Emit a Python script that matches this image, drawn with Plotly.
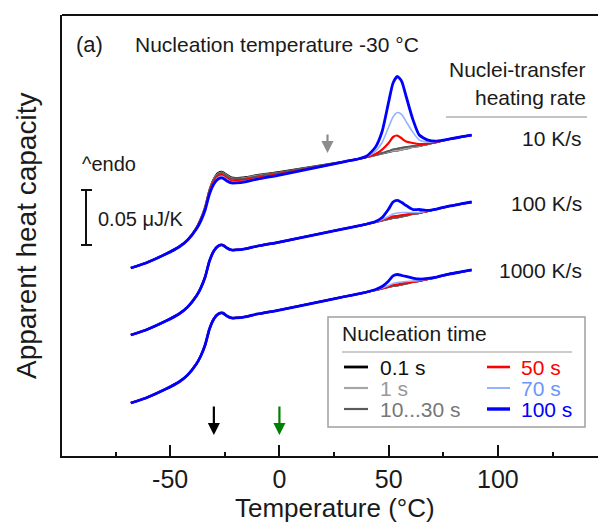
import plotly.graph_objects as go

# ---------------- data ----------------
# temperature grid, degC
T = [-68, -60, -52, -46, -42, -38, -36, -34, -32, -30, -28, -26, -24, -22, -20,
     -15, -10, 0, 10, 20, 30, 36, 40, 44, 47, 50, 52, 54, 56, 58, 61, 64, 68,
     72, 78, 83, 88]
# common curve (100 s trace shape) relative to its start, nJ/K
baseline = [0, 5.5, 12.7, 19.1, 25.5, 35.5, 42.7, 52.7, 67.3, 76.4, 80.9, 81.8,
            79.1, 77.3, 77.3, 78.6, 80.9, 84.5, 88.6, 92.7, 96.8, 99.1, 100.9,
            102.7, 104.1, 105.5, 106.4, 106.8, 107.7, 108.6, 110.0, 110.9,
            112.7, 114.5, 117.3, 119.1, 120.9]

rates = ["10 K/s", "100 K/s", "1000 K/s"]
rate_offset = [0.1709, 0.1100, 0.0482]          # uJ/K, start level of each group
times = ["0.1 s", "1 s", "10...30 s", "50 s", "70 s", "100 s"]

# melting-peak excess, nJ/K, at these temperatures
peak_T = [36, 40, 44, 47, 50, 52, 54, 56, 58, 61, 64, 68, 72, 78]
melt_10Ks = [
    [0] * 14,
    [0] * 14,
    [0, 0, 0, 0.5, 0.9, 1.4, 1.8, 1.8, 1.4, 0.9, 0.5, 0, 0, 0],
    [0, 0, 0.9, 3.6, 8.2, 12.7, 13.6, 10, 6.4, 3.6, 1.8, 0.5, 0, 0],
    [0, 0.5, 3.6, 10, 22.7, 30.9, 34.5, 31.8, 24.5, 13.6, 5.5, 1.8, 0.5, 0],
    [0, 0.9, 7.3, 20, 45.5, 61.8, 67.3, 61.8, 47.3, 25.5, 10, 3.6, 0.9, 0],
]
melt_100Ks = [
    [0] * 14,
    [0] * 14,
    [0] * 14,
    [0, 0, 0, 0.5, 0.9, 1.4, 1.4, 1.4, 0.9, 0.5, 0, 0, 0, 0],
    [0, 0, 0, 0.9, 2.3, 3.6, 4.1, 3.6, 2.7, 1.4, 0.5, 0, 0, 0],
    [0, 0, 0.5, 2.7, 9.1, 14.5, 15.5, 12.7, 9.1, 4.1, 3.2, 0.5, 0, 0],
]
melt_1000Ks = [
    [0] * 14,
    [0] * 14,
    [0] * 14,
    [0, 0, 0, 0, 0.5, 0.9, 0.9, 0.9, 0.5, 0, 0, 0, 0, 0],
    [0, 0, 0, 0.5, 1.4, 2.3, 2.7, 2.3, 1.8, 0.9, 0.5, 0, 0, 0],
    [0, 0, 0.5, 1.8, 5.5, 9.1, 10, 8.2, 6.4, 3.6, 1.8, 0.5, 0, 0],
]
# enthalpy-recovery overshoot excess (10 K/s group), nJ/K
tg_T = [-38, -36, -34, -32, -30, -28, -26, -24, -22, -20, -15, -10, 0, 10, 20, 30]
overshoot_10Ks = [
    [0.9, 1.8, 2.7, 3.6, 4.5, 5.5, 5.5, 5.5, 5.0, 4.5, 4.1, 3.6, 2.7, 1.8, 0.9, 0],
    [0.9, 1.8, 2.7, 3.6, 4.5, 5.0, 5.0, 5.0, 4.5, 4.1, 3.6, 3.2, 2.3, 1.4, 0.5, 0],
    [0.9, 1.4, 2.3, 3.2, 4.1, 4.5, 4.5, 4.5, 4.1, 3.6, 3.2, 2.7, 2.3, 1.4, 0.5, 0],
    [0.5, 0.9, 1.4, 1.8, 2.3, 2.7, 2.7, 2.7, 2.3, 2.3, 1.8, 1.4, 0.9, 0.5, 0, 0],
    [0, 0.5, 0.5, 0.9, 0.9, 1.4, 1.4, 1.4, 0.9, 0.9, 0.5, 0.5, 0, 0, 0, 0],
    [0] * 16,
]
melt_all = [melt_10Ks, melt_100Ks, melt_1000Ks]

# styles
line_colors = ["#000000", "#a6a6a6", "#5a5a5a", "#ff0000", "#93b2ff", "#0000ff"]
line_widths = [2.2, 1.8, 1.8, 2.2, 1.6, 2.8]
text_colors = ["#111111", "#999999", "#777777", "#ff0000", "#6a96ff", "#0000ff"]

FONT = "Liberation Sans, Arial, sans-serif"
TXT = "#1a1a1a"

idx = {t: i for i, t in enumerate(T)}

fig = go.Figure()
for r, rate in enumerate(rates):
    for j, tm in enumerate(times):
        vals = list(baseline)
        for k, t in enumerate(peak_T):
            vals[idx[t]] += melt_all[r][j][k]
        if r == 0:
            for k, t in enumerate(tg_T):
                vals[idx[t]] += overshoot_10Ks[j][k]
        y = [rate_offset[r] + v / 1000.0 for v in vals]
        fig.add_trace(go.Scatter(
            x=T, y=y, mode="lines", name=f"{rate} {tm}",
            line=dict(color=line_colors[j], width=line_widths[j],
                      shape="spline", smoothing=0.6),
            showlegend=False, hoverinfo="skip"))

# ---------------- layout helpers (pixel -> paper) ----------------
L, R, TOP, BOT = 62, 598, 15, 456
def px(xp):
    return (xp - L) / (R - L)
def py(yp):
    return (BOT - yp) / (BOT - TOP)

ann = []
def text(xp, yp, s, size=21, color=TXT, xanchor="left", **kw):
    ann.append(dict(x=px(xp), y=py(yp), xref="paper", yref="paper", text=s,
                    showarrow=False, xanchor=xanchor, yanchor="middle",
                    font=dict(family=FONT, size=size, color=color), **kw))

text(74, 44, "(a)", size=22)
text(133, 45, "Nucleation temperature -30 °C", size=21)
text(588, 70, "Nuclei-transfer", size=21, xanchor="right")
text(588, 97, "heating rate", size=21, xanchor="right")
text(584, 138, rates[0], size=21, xanchor="right")
text(584, 203, rates[1], size=21, xanchor="right")
text(584, 270, rates[2], size=21, xanchor="right")
text(80, 164, "^endo", size=20)
text(96, 219, "0.05 μJ/K", size=20)
text(335, 508, "Temperature (°C)", size=26, xanchor="center")
text(27, 236, "Apparent heat capacity", size=28, xanchor="center", textangle=-90)

# legend
text(340, 333, "Nucleation time", size=21)
leg_rows = [367, 388, 409]
for j, tm in enumerate(times):
    col = j // 3
    row = j % 3
    text(378 if col == 0 else 519, leg_rows[row], tm, size=21, color=text_colors[j])

shapes = []
def seg(x0, y0, x1, y1, color, width):
    shapes.append(dict(type="line", xref="paper", yref="paper",
                       x0=px(x0), y0=py(y0), x1=px(x1), y1=py(y1),
                       line=dict(color=color, width=width)))

# top frame line
shapes.append(dict(type="line", xref="paper", yref="paper", x0=0, x1=1, y0=1, y1=1,
                   line=dict(color="#111111", width=2)))
# rate header rule
seg(446, 117, 587, 117, "#8a8a8a", 1.2)
# scale bar
seg(86, 190, 86, 245, "#111111", 2)
seg(81, 190, 92, 190, "#111111", 2)
seg(81, 245, 92, 245, "#111111", 2)
# legend box
shapes.append(dict(type="rect", xref="paper", yref="paper",
                   x0=px(328), x1=px(585), y0=py(427), y1=py(317),
                   line=dict(color="#a0a0a0", width=1.5), fillcolor="rgba(0,0,0,0)"))
seg(342, 352, 572, 352, "#9a9a9a", 1.2)
for j in range(6):
    col = j // 3
    row = j % 3
    x0, x1 = (344, 368) if col == 0 else (487, 510)
    seg(x0, leg_rows[row], x1, leg_rows[row], line_colors[j],
        line_widths[j] + (0.6 if j in (0, 5) else 0.4))

# arrows (temperature markers)
def arrow(xdata, ytip_px, length, color):
    ann.append(dict(x=xdata, y=py(ytip_px), xref="x", yref="paper", text="",
                    showarrow=True, ax=0, ay=-length, axref="pixel", ayref="pixel",
                    arrowhead=2, arrowsize=1.1, arrowwidth=2.2, arrowcolor=color))

arrow(22, 153, 20, "#8c8c8c")
arrow(-30, 435, 30, "#000000")
arrow(0, 435, 30, "#008000")

fig.update_layout(
    width=598, height=525,
    margin=dict(l=L, r=598 - R, t=TOP, b=525 - BOT),
    paper_bgcolor="white", plot_bgcolor="white",
    showlegend=False,
    annotations=ann, shapes=shapes,
    xaxis=dict(range=[-99.5, 145.8], showline=True, linewidth=2, linecolor="#111111",
               showgrid=False, zeroline=False,
               tickvals=[-50, 0, 50, 100], ticktext=["-50", "0", "50", "100"],
               ticks="inside", ticklen=11, tickwidth=2, tickcolor="#111111",
               minor=dict(ticks="inside", ticklen=4, tickwidth=2, dtick=25, tick0=0,
                          tickcolor="#111111"),
               tickfont=dict(family=FONT, size=25, color=TXT),
               ticklabelstandoff=0),
    yaxis=dict(range=[0, 0.4009], showline=True, linewidth=2, linecolor="#111111",
               showgrid=False, zeroline=False, showticklabels=False, ticks=""),
)

fig.write_html("out.html",
               config={"displayModeBar": False},
               post_script="document.body.style.margin='0';"
                           "document.body.style.overflow='hidden';")
